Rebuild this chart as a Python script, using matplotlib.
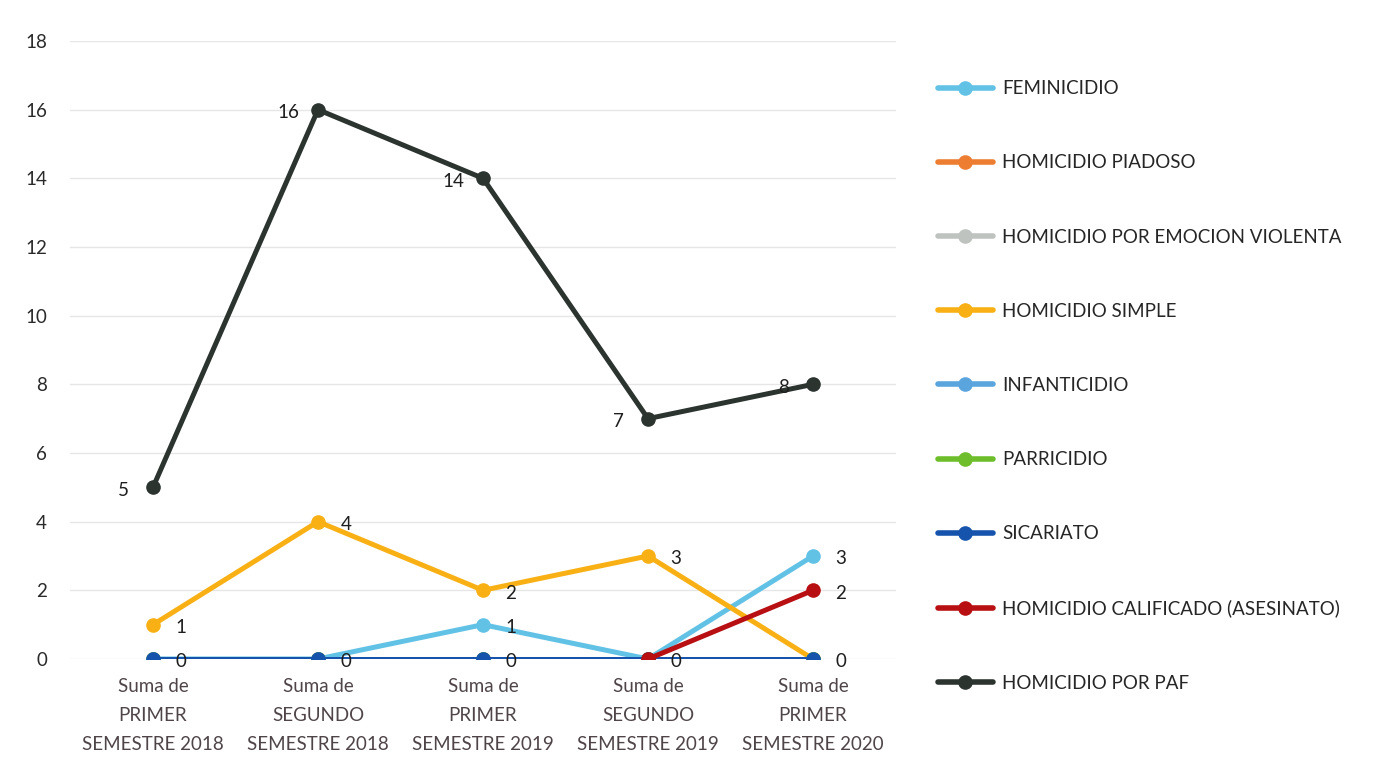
import matplotlib
matplotlib.use("Agg")
import matplotlib.pyplot as plt
import numpy as np

plt.rcParams['font.family'] = ['Lato', 'DejaVu Sans']

# categories (x axis)
categorias = ["Suma de\nPRIMER\nSEMESTRE 2018",
              "Suma de\nSEGUNDO\nSEMESTRE 2018",
              "Suma de\nPRIMER\nSEMESTRE 2019",
              "Suma de\nSEGUNDO\nSEMESTRE 2019",
              "Suma de\nPRIMER\nSEMESTRE 2020"]

# series values
feminicidio = [0, 0, 1, 0, 3]
piadoso = [0, 0, 0, 0, 0]
emocion = [0, 0, 0, 0, 0]
simple = [1, 4, 2, 3, 0]
infanticidio = [0, 0, 0, 0, 0]
parricidio = [0, 0, 0, 0, 0]
sicariato = [0, 0, 0, 0, 0]
calificado = [np.nan, np.nan, np.nan, 0, 2]
paf = [5, 16, 14, 7, 8]

series = [
    ("FEMINICIDIO", feminicidio, "#62C2E6"),
    ("HOMICIDIO PIADOSO", piadoso, "#ED7D31"),
    ("HOMICIDIO POR EMOCION VIOLENTA", emocion, "#BFC3C0"),
    ("HOMICIDIO SIMPLE", simple, "#F8B014"),
    ("INFANTICIDIO", infanticidio, "#5AA5DE"),
    ("PARRICIDIO", parricidio, "#6DBE2A"),
    ("SICARIATO", sicariato, "#1553AD"),
    ("HOMICIDIO CALIFICADO (ASESINATO)", calificado, "#B80F12"),
    ("HOMICIDIO POR PAF", paf, "#2C3430"),
]

# which points carry a data label, and on which side
etiquetas = {
    "FEMINICIDIO": ([2, 4], 'right'),
    "HOMICIDIO SIMPLE": ([0, 1, 2, 3, 4], 'right'),
    "SICARIATO": ([0, 1, 2, 3], 'right'),
    "HOMICIDIO CALIFICADO (ASESINATO)": ([4], 'right'),
    "HOMICIDIO POR PAF": ([0, 1, 2, 3, 4], 'left'),
}

fig = plt.figure(figsize=(13.96, 7.72), dpi=100)
ax = fig.add_axes([0.0505, 0.1464, 0.591, 0.8005])

x = np.arange(len(categorias))
for i, (nombre, vals, color) in enumerate(series):
    ax.plot(x, vals, color=color, lw=3.6, marker='o', markersize=9.5,
            label=nombre, zorder=3 + i, solid_capstyle='round')
    if nombre in etiquetas:
        idx, lado = etiquetas[nombre]
        for j in idx:
            dx = 20 if lado == 'right' else -21
            ax.annotate(f"{vals[j]:g}", (x[j], vals[j]), xytext=(dx, -2),
                        textcoords='offset points', ha='center', va='center',
                        fontsize=13.5, color='#1e1e1e', zorder=20)

ax.set_xlim(-0.5, len(categorias) - 0.5)
ax.set_ylim(0, 18)
ax.set_yticks(range(0, 19, 2))
ax.set_xticks(x)
ax.set_xticklabels(categorias, fontsize=13.5, color='#4f4548', linespacing=1.85)
ax.tick_params(axis='y', labelsize=13.5, labelcolor='#2a2a2a', length=0, pad=17)
ax.tick_params(axis='x', length=0, pad=14)
ax.grid(axis='y', color='#e6e6e6', lw=1)
ax.set_axisbelow(True)
for s in ax.spines.values():
    s.set_visible(False)

leg = fig.legend(loc='upper left', bbox_to_anchor=(0.66, 0.918), frameon=False,
                 fontsize=13.5, labelspacing=3.05, handlelength=2.9,
                 handletextpad=0.5, labelcolor='#262626')
for h in leg.get_lines():
    h.set_linewidth(4)

fig.savefig("out.png", dpi=100)
